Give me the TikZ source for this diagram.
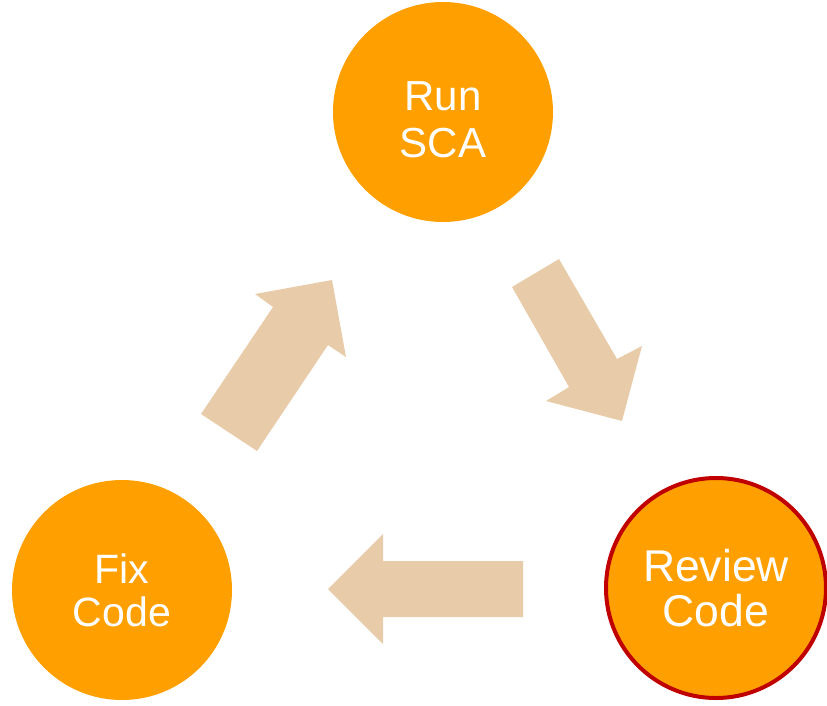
\documentclass[tikz,border=0pt]{standalone}
\usepackage{fontspec}
\setmainfont{Liberation Sans}
\definecolor{orng}{RGB}{255,160,0}
\definecolor{tan}{RGB}{232,204,170}
\definecolor{rimred}{RGB}{192,0,0}
\begin{document}
\begin{tikzpicture}[x=1pt,y=-1pt,
  stage/.style={circle, fill=orng, draw=none, minimum size=220pt, inner sep=0pt,
    align=center, text=white, font=\fontsize{41}{43}\selectfont},
  stagetext/.style={align=center, text=white, inner sep=0pt},
  blockarrow/.style={fill=tan, draw=none}]
\useasboundingbox (0,0) rectangle (827,705);
\node[stage, label={[stagetext, yshift=-8pt, font=\fontsize{42}{46.5}\selectfont]center:{Run\\SCA}}] (run) at (443,112) {};
\node[stage] (fix) at (122,590) {Fix\\Code};
\node[stage, draw=rimred, line width=4pt, font=\fontsize{44.5}{45}\selectfont] (review) at (716,588) {Review\\Code};
% Run SCA -> Review Code
\fill[blockarrow] (512,287) -- (559,259) -- (617,359) -- (642,346) -- (622,421) -- (546,401) -- (569,387) -- cycle;
% Review Code -> Fix Code
\fill[blockarrow] (523,561) -- (383,561) -- (383,534) -- (328,589) -- (383,644) -- (383,617) -- (523,617) -- cycle;
% Fix Code -> Run SCA
\fill[blockarrow] (201,414) -- (273,307) -- (255,294) -- (332,280) -- (346,357) -- (328,345) -- (257,451) -- cycle;
\end{tikzpicture}
\end{document}
